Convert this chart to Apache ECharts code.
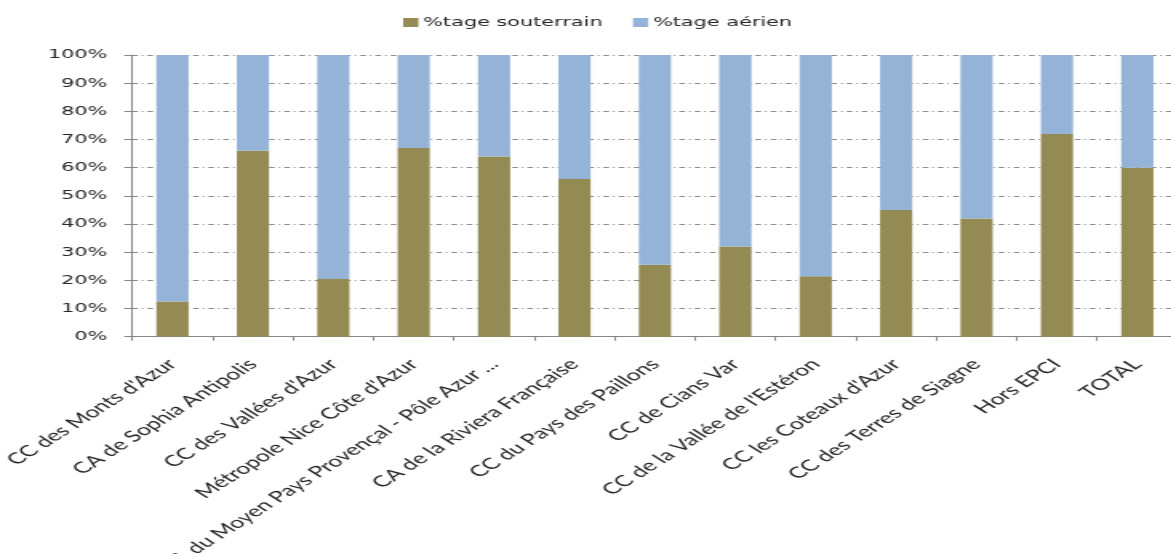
<!DOCTYPE html>
<html>
<head>
<meta charset="utf-8">
<script src="https://cdn.jsdelivr.net/npm/echarts@6/dist/echarts.min.js"></script>
<style>
  html, body { margin: 0; padding: 0; background: #ffffff; overflow: hidden; }
  /* the chart is laid out on a narrower canvas and widened horizontally */
  #chart { width: 732px; height: 554px; transform: scaleX(1.6); transform-origin: 0 0; }
</style>
</head>
<body>
<div id="chart"></div>
<script>
const categories = [
  "CC des Monts d'Azur",
  "CA de Sophia Antipolis",
  "CC des Vallées d'Azur",
  "Métropole Nice Côte d'Azur",
  "CA du Moyen Pays Provençal - Pôle Azur ...",
  "CA de la Riviera Française",
  "CC du Pays des Paillons",
  "CC de Cians Var",
  "CC de la Vallée de l'Estéron",
  "CC les Coteaux d'Azur",
  "CC des Terres de Siagne",
  "Hors EPCI",
  "TOTAL"
];
const souterrain = [12.5, 66, 20.5, 67, 64, 56, 25.5, 32, 21.5, 45, 42, 72, 60];
const aerien = souterrain.map(v => Math.round((100 - v) * 10) / 10);
const seriesNames = ['%tage souterrain', '%tage aérien'];

const chart = echarts.init(document.getElementById('chart'), null, { renderer: 'canvas' });
chart.setOption({
  animation: false,
  backgroundColor: '#ffffff',
  legend: {
    data: seriesNames,
    left: 247,
    top: 11,
    itemWidth: 9.5,
    itemHeight: 9,
    itemGap: 19,
    icon: 'rect',
    textStyle: { fontFamily: 'DejaVu Sans', fontSize: 13, color: '#262626', padding: [0, 0, 0, -2] }
  },
  grid: {
    left: 82.7, right: -4, top: 55, bottom: 217.3,
    containLabel: false,
    outerBoundsMode: 'none'
  },
  xAxis: {
    type: 'category',
    data: categories,
    boundaryGap: true,
    axisLine: { lineStyle: { color: '#868686', width: 1 } },
    axisTick: { show: true, length: 4, lineStyle: { color: '#868686' } },
    axisLabel: {
      interval: 0,
      rotate: 45,
      margin: 25,
      fontFamily: 'Lato',
      fontSize: 15.5,
      color: '#262626'
    }
  },
  yAxis: {
    type: 'value',
    min: 0,
    max: 100,
    interval: 10,
    axisLine: { show: true, lineStyle: { color: '#868686', width: 1 } },
    axisTick: { show: true, length: 5, lineStyle: { color: '#868686' } },
    axisLabel: {
      formatter: '{value}%',
      margin: 15.5,
      fontFamily: 'DejaVu Sans',
      fontSize: 13,
      color: '#262626'
    },
    splitLine: {
      show: true,
      lineStyle: { color: '#8c8c8c', width: 1, type: [3.5, 2.5, 1, 2.5] }
    }
  },
  series: [
    {
      name: seriesNames[0],
      type: 'bar',
      stack: 'total',
      data: souterrain,
      barWidth: '40%',
      itemStyle: { color: '#948A54' }
    },
    {
      name: seriesNames[1],
      type: 'bar',
      stack: 'total',
      data: aerien,
      barWidth: '40%',
      itemStyle: { color: '#95B3D7' }
    }
  ]
});
</script>
</body>
</html>
